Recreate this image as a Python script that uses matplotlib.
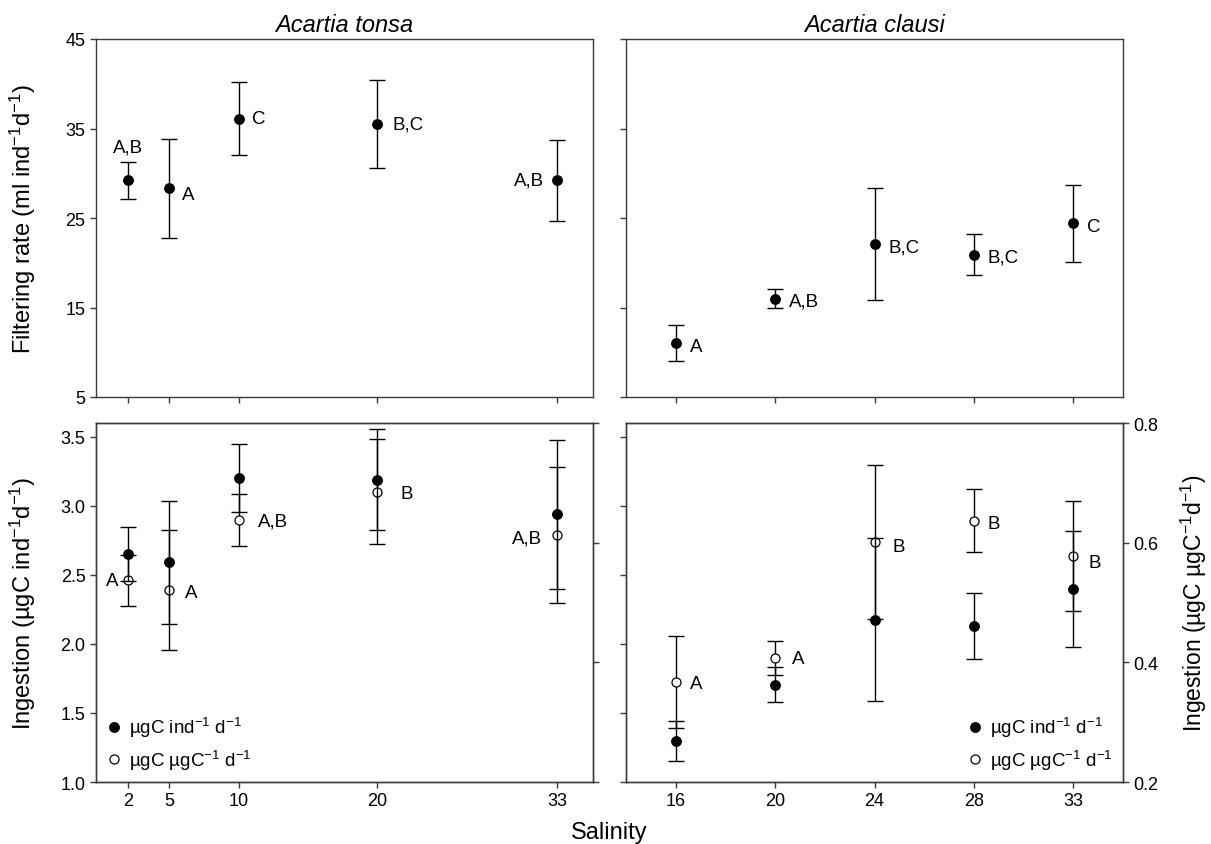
import matplotlib
matplotlib.use("Agg")
import matplotlib.pyplot as plt
from matplotlib.lines import Line2D
import numpy as np

plt.rcParams['font.family'] = ['Liberation Sans', 'DejaVu Sans']
plt.rcParams['mathtext.fontset'] = 'custom'
plt.rcParams['mathtext.rm'] = 'Liberation Sans'
plt.rcParams['mathtext.it'] = 'Liberation Sans:italic'

# Acartia tonsa
sal_tonsa = [2, 5, 10, 20, 33]
filt_tonsa = [29.2, 28.3, 36.1, 35.5, 29.2]
filt_tonsa_err = [2.1, 5.5, 4.1, 4.9, 4.5]
filt_tonsa_letters = ['A,B', 'A', 'C', 'B,C', 'A,B']

ing_ind_tonsa = [2.65, 2.59, 3.20, 3.19, 2.94]
ing_ind_tonsa_err = [0.195, 0.448, 0.245, 0.363, 0.54]
ing_c_tonsa = [0.537, 0.521, 0.638, 0.685, 0.613]
ing_c_tonsa_err = [0.043, 0.100, 0.043, 0.088, 0.113]
ing_tonsa_letters = ['A', 'A', 'A,B', 'B', 'A,B']

# Acartia clausi (salinities drawn as evenly spaced categories)
sal_clausi = ['16', '20', '24', '28', '33']
filt_clausi = [11.0, 16.0, 22.1, 20.9, 24.4]
filt_clausi_err = [2.0, 1.1, 6.3, 2.3, 4.3]
filt_clausi_letters = ['A', 'A,B', 'B,C', 'B,C', 'C']

ing_ind_clausi = [1.30, 1.705, 2.174, 2.128, 2.395]
ing_ind_clausi_err = [0.145, 0.128, 0.59, 0.24, 0.42]
ing_c_clausi = [0.367, 0.407, 0.601, 0.637, 0.578]
ing_c_clausi_err = [0.077, 0.028, 0.128, 0.053, 0.092]
ing_clausi_letters = ['A', 'A', 'B', 'B', 'B']

# letter offsets in points (dx, dy, alignment), per panel
off_filt_tonsa = [(0, 24, 'center'), (9, -4, 'left'), (10, 0, 'left'), (11, 0, 'left'), (-9, 0, 'right')]
off_filt_clausi = [(10, -2, 'left')] * 5
off_ing_tonsa = [(-7, 0, 'right'), (11, -2, 'left'), (14, -1, 'left'), (17, -1, 'left'), (-11, -2, 'right')]
off_ing_clausi = [(10, -1, 'left'), (12, 0, 'left'), (13, -3, 'left'), (10, -2, 'left'), (11, -5, 'left')]

spine_col = '#3a3a3a'
tick_fs = 13
lab_fs = 17

fig = plt.figure(figsize=(12.11, 8.45), dpi=100)

W = 497 / 1211
ax1 = fig.add_axes([96 / 1211, 1 - 398 / 845, W, 358 / 845])
ax2 = fig.add_axes([626 / 1211, 1 - 398 / 845, W, 358 / 845])
ax3 = fig.add_axes([96 / 1211, 1 - 783 / 845, W, 359 / 845])
ax4 = fig.add_axes([626 / 1211, 1 - 783 / 845, W, 359 / 845])
ax3r = ax3.twinx()
ax4r = ax4.twinx()

eb = dict(fmt='none', ecolor='black', elinewidth=1, capsize=5.5, capthick=1)
fill_mk = dict(marker='o', ls='none', ms=6.8, mfc='black', mec='black')
open_mk = dict(marker='o', ls='none', ms=6.5, mfc='white', mec='black', mew=0.9)


def letters(ax, xs, ys, labs, offs):
    for x, y, t, (dx, dy, ha) in zip(xs, ys, labs, offs):
        ax.annotate(t, (x, y), xytext=(dx, dy), textcoords='offset points',
                    ha=ha, va='center', fontsize=13.5)


# top-left: filtering rate, A. tonsa
ax1.errorbar(sal_tonsa, filt_tonsa, yerr=filt_tonsa_err, **eb)
ax1.plot(sal_tonsa, filt_tonsa, zorder=5, **fill_mk)
letters(ax1, sal_tonsa, filt_tonsa, filt_tonsa_letters, off_filt_tonsa)
ax1.set_xlim(-0.3, 35.6)
ax1.set_ylim(5, 45)
ax1.set_yticks([5, 15, 25, 35, 45])
ax1.set_xticks(sal_tonsa)
ax1.tick_params(axis='x', labelbottom=False)
ax1.set_ylabel('Filtering rate (ml ind$^{-1}$d$^{-1}$)', fontsize=lab_fs)
ax1.yaxis.set_label_coords(-0.117, 0.5)
ax1.set_title('Acartia tonsa', style='italic', fontsize=lab_fs, pad=6)

# top-right: filtering rate, A. clausi
xc = np.arange(len(sal_clausi))
ax2.errorbar(xc, filt_clausi, yerr=filt_clausi_err, **eb)
ax2.plot(xc, filt_clausi, zorder=5, **fill_mk)
letters(ax2, xc, filt_clausi, filt_clausi_letters, off_filt_clausi)
ax2.set_xlim(-0.5, 4.5)
ax2.set_ylim(5, 45)
ax2.set_yticks([5, 15, 25, 35, 45])
ax2.set_xticks(xc)
ax2.tick_params(labelbottom=False, labelleft=False)
ax2.set_title('Acartia clausi', style='italic', fontsize=lab_fs, pad=6)

# bottom-left: ingestion, A. tonsa (filled on left axis, open on right axis)
ax3r.errorbar(sal_tonsa, ing_c_tonsa, yerr=ing_c_tonsa_err, **eb)
ax3r.plot(sal_tonsa, ing_c_tonsa, zorder=5, **open_mk)
ax3.errorbar(sal_tonsa, ing_ind_tonsa, yerr=ing_ind_tonsa_err, **eb)
ax3.plot(sal_tonsa, ing_ind_tonsa, zorder=5, **fill_mk)
letters(ax3r, sal_tonsa, ing_c_tonsa, ing_tonsa_letters, off_ing_tonsa)
ax3.set_zorder(ax3r.get_zorder() + 1)
ax3.patch.set_visible(False)
ax3.set_xlim(-0.3, 35.6)
ax3.set_ylim(1.0, 3.6)
ax3.set_yticks([1.0, 1.5, 2.0, 2.5, 3.0, 3.5])
ax3.set_yticklabels(['1.0', '1.5', '2.0', '2.5', '3.0', '3.5'])
ax3.set_xticks(sal_tonsa)
ax3.set_xticklabels([str(s) for s in sal_tonsa])
ax3r.set_ylim(0.2, 0.8)
ax3r.set_yticks([0.2, 0.4, 0.6, 0.8])
ax3r.tick_params(labelright=False)
ax3.set_ylabel('Ingestion (µgC ind$^{-1}$d$^{-1}$)', fontsize=lab_fs)
ax3.yaxis.set_label_coords(-0.117, 0.5)

# bottom-right: ingestion, A. clausi
ax4r.errorbar(xc, ing_c_clausi, yerr=ing_c_clausi_err, **eb)
ax4r.plot(xc, ing_c_clausi, zorder=5, **open_mk)
ax4.errorbar(xc, ing_ind_clausi, yerr=ing_ind_clausi_err, **eb)
ax4.plot(xc, ing_ind_clausi, zorder=5, **fill_mk)
letters(ax4r, xc, ing_c_clausi, ing_clausi_letters, off_ing_clausi)
ax4.set_zorder(ax4r.get_zorder() + 1)
ax4.patch.set_visible(False)
ax4.set_xlim(-0.5, 4.5)
ax4.set_ylim(1.0, 3.6)
ax4.set_yticks([1.0, 1.5, 2.0, 2.5, 3.0, 3.5])
ax4.tick_params(labelleft=False)
ax4.set_xticks(xc)
ax4.set_xticklabels(sal_clausi)
ax4r.set_ylim(0.2, 0.8)
ax4r.set_yticks([0.2, 0.4, 0.6, 0.8])
ax4r.set_yticklabels(['0.2', '0.4', '0.6', '0.8'])
ax4r.set_ylabel('Ingestion (µgC µgC$^{-1}$d$^{-1}$)', fontsize=16.5)
ax4r.yaxis.set_label_coords(1.113, 0.5)

for ax in [ax1, ax2, ax3, ax4, ax3r, ax4r]:
    for s in ax.spines.values():
        s.set_color(spine_col)
        s.set_linewidth(1.0)
    ax.tick_params(direction='out', length=4, width=1, color=spine_col, labelsize=tick_fs)

# legends
handles = [Line2D([], [], **fill_mk), Line2D([], [], **open_mk)]
leg_labels = ['µgC ind$^{-1}$ d$^{-1}$', 'µgC µgC$^{-1}$ d$^{-1}$']
ax3.legend(handles, leg_labels, loc='lower left', frameon=False, fontsize=13.5,
           handlelength=0.8, handletextpad=0.4, labelspacing=0.45, borderaxespad=0.15)
ax4.legend(handles, leg_labels, loc='lower right', frameon=False, fontsize=13.5,
           handlelength=0.8, handletextpad=0.4, labelspacing=0.45, borderaxespad=0.15)

fig.text(609 / 1211, 1 - 833 / 845, 'Salinity', ha='center', va='center', fontsize=lab_fs)

plt.savefig('out.png', dpi=100)
